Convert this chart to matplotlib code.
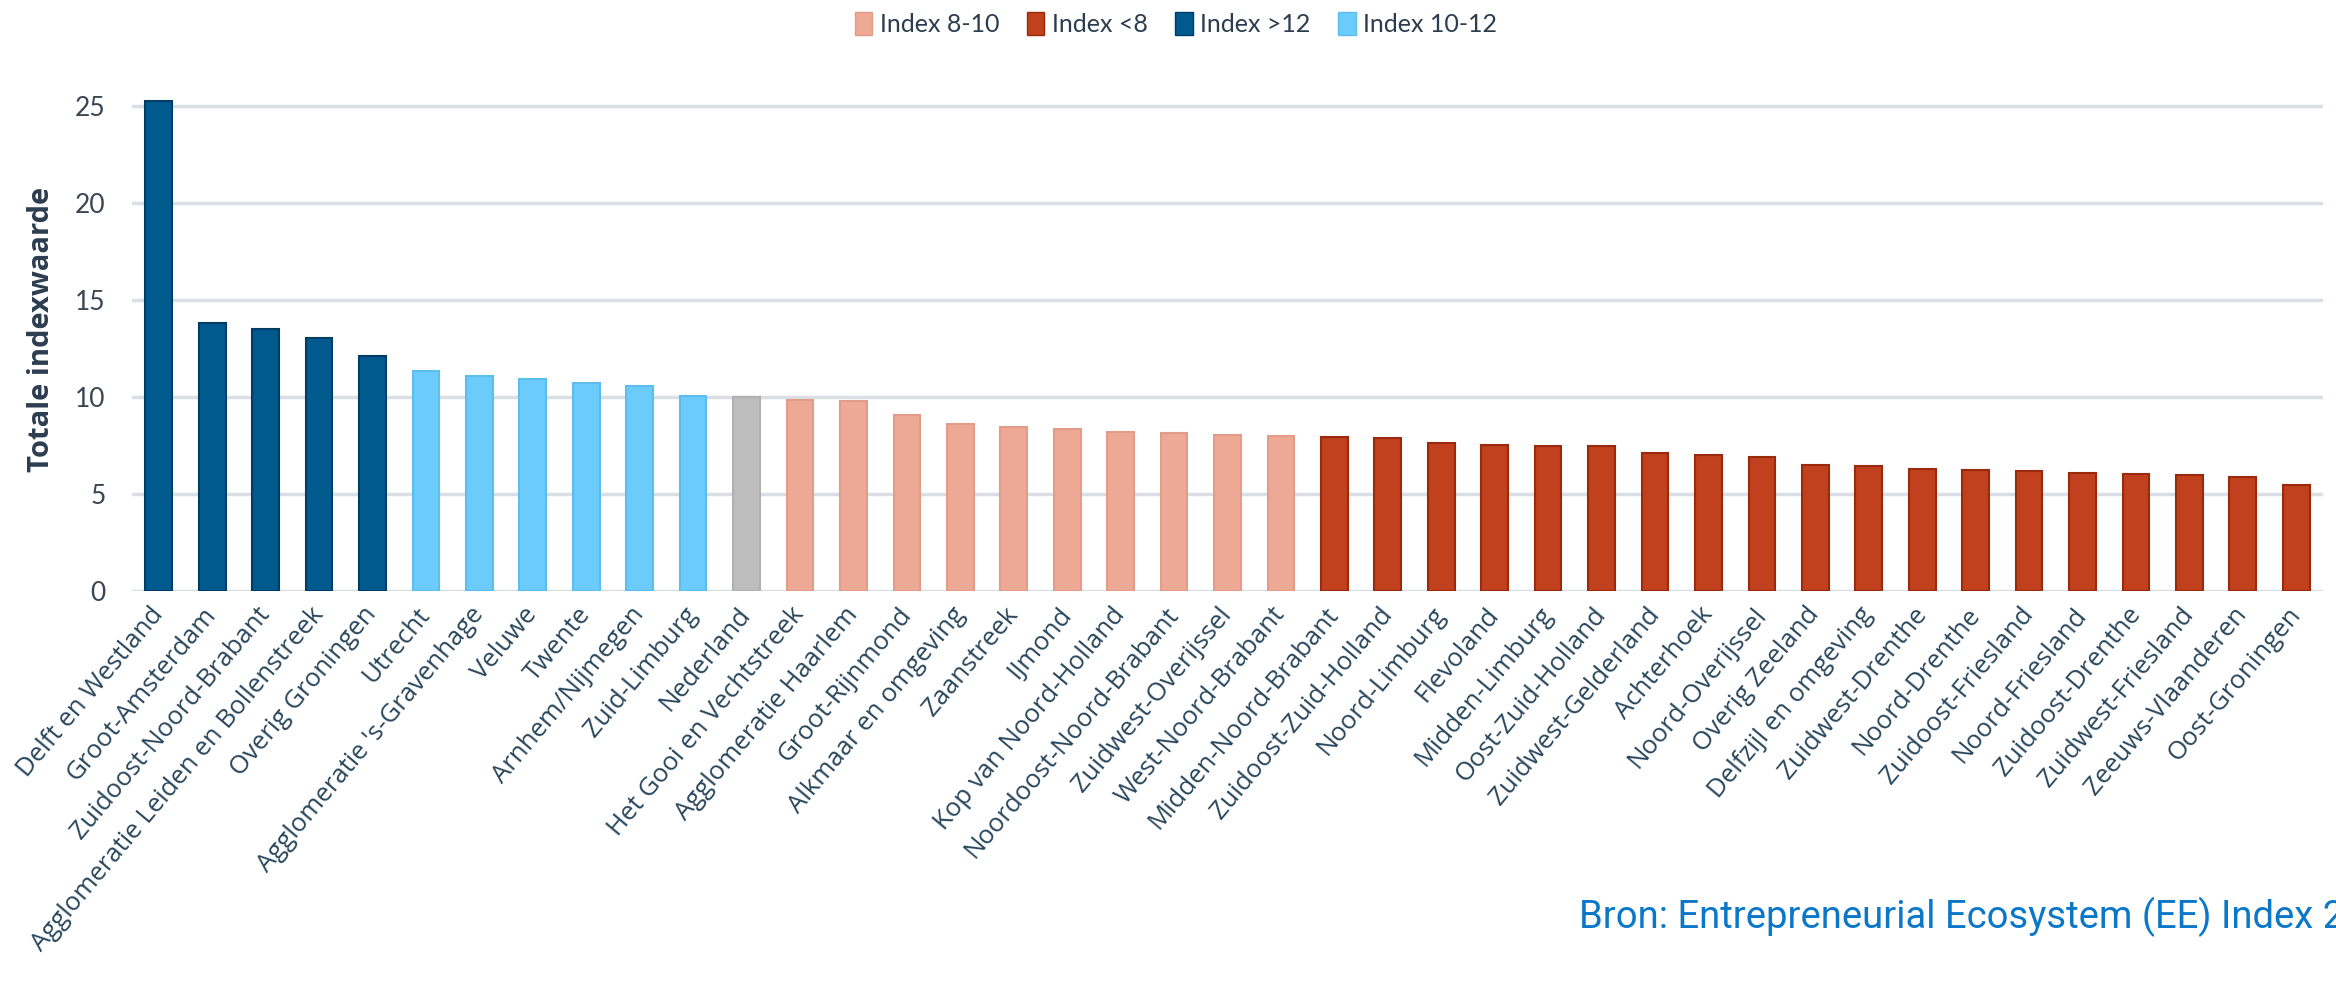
import matplotlib
matplotlib.use("Agg")
import matplotlib.pyplot as plt
from matplotlib.patches import Patch

regions = [
    "Delft en Westland", "Groot-Amsterdam", "Zuidoost-Noord-Brabant",
    "Agglomeratie Leiden en Bollenstreek", "Overig Groningen", "Utrecht",
    "Agglomeratie 's-Gravenhage", "Veluwe", "Twente", "Arnhem/Nijmegen",
    "Zuid-Limburg", "Nederland", "Het Gooi en Vechtstreek", "Agglomeratie Haarlem",
    "Groot-Rijnmond", "Alkmaar en omgeving", "Zaanstreek", "IJmond",
    "Kop van Noord-Holland", "Noordoost-Noord-Brabant", "Zuidwest-Overijssel",
    "West-Noord-Brabant", "Midden-Noord-Brabant", "Zuidoost-Zuid-Holland",
    "Noord-Limburg", "Flevoland", "Midden-Limburg", "Oost-Zuid-Holland",
    "Zuidwest-Gelderland", "Achterhoek", "Noord-Overijssel", "Overig Zeeland",
    "Delfzijl en omgeving", "Zuidwest-Drenthe", "Noord-Drenthe",
    "Zuidoost-Friesland", "Noord-Friesland", "Zuidoost-Drenthe",
    "Zuidwest-Friesland", "Zeeuws-Vlaanderen", "Oost-Groningen",
]
values = [
    25.27, 13.80, 13.52, 13.02, 12.12, 11.34,
    11.08, 10.91, 10.72, 10.55,
    10.03, 10.00, 9.83, 9.79,
    9.06, 8.59, 8.47, 8.34,
    8.22, 8.13, 8.04,
    7.99, 7.96, 7.89,
    7.62, 7.55, 7.46, 7.45,
    7.13, 7.01, 6.91, 6.51,
    6.43, 6.27, 6.25,
    6.17, 6.07, 6.05,
    5.96, 5.88, 5.46,
]
groups = (["Index >12"] * 5 + ["Index 10-12"] * 6 + ["Nederland"]
          + ["Index 8-10"] * 10 + ["Index <8"] * 19)
legend_order = ["Index 8-10", "Index <8", "Index >12", "Index 10-12"]

fills = {"Index >12": "#005A8E", "Index 10-12": "#6BCBFB", "Nederland": "#BDBDBD",
         "Index 8-10": "#EDA996", "Index <8": "#C1401D"}
edges = {"Index >12": "#003C64", "Index 10-12": "#5CBDEE", "Nederland": "#B0B0B0",
         "Index 8-10": "#E39C88", "Index <8": "#992A0E"}

W, H = 2336, 983
fig = plt.figure(figsize=(W / 100, H / 100), dpi=100)
ax = fig.add_axes([132 / W, (H - 591) / H, (2323 - 132) / W, 27 * 19.4 / H])

x = list(range(len(regions)))
ax.bar(x, values, width=0.5,
       color=[fills[g] for g in groups],
       edgecolor=[edges[g] for g in groups], linewidth=1.5, zorder=3)

ax.set_xlim(-0.5, len(regions) - 0.5)
ax.set_ylim(0, 27)
ax.set_yticks([0, 5, 10, 15, 20, 25])
ax.yaxis.grid(True, color="#D9DFE4", linewidth=2.5, zorder=0)
ax.set_axisbelow(True)
for s in ax.spines.values():
    s.set_visible(False)

condensed = ["Liberation Sans Narrow", "Lato", "DejaVu Sans"]
ax.tick_params(axis="y", length=0, pad=19, labelsize=19, labelcolor="#3A4654")
for t in ax.get_yticklabels():
    t.set_family(condensed)

ax.set_xticks(x)
ax.set_xticklabels(regions, rotation=50, ha="right", va="center",
                   rotation_mode="anchor", fontsize=18.5, color="#28465C",
                   family=["Open Sans", "Lato", "DejaVu Sans"])
ax.tick_params(axis="x", length=0, pad=14)

ax.set_ylabel("Totale indexwaarde", fontsize=21, fontweight="bold",
              color="#2B3D4F", family=["Open Sans", "Lato", "DejaVu Sans"], labelpad=14)

handles = [Patch(facecolor=fills[g], edgecolor=edges[g], label=g) for g in legend_order]
leg = fig.legend(handles=handles, loc="center", bbox_to_anchor=(1176 / W, 1 - 24 / H),
                 ncol=4, frameon=False, handlelength=0.7, handleheight=1.0,
                 handletextpad=0.3, columnspacing=1.1,
                 prop={"family": condensed, "size": 18})
for t in leg.get_texts():
    t.set_color("#2B3D4F")

fig.text(1579 / W, 1 - 917 / H, "Bron: Entrepreneurial Ecosystem (EE) Index 2023",
         ha="left", va="center", fontsize=27.5, color="#0A77C9",
         family=["Roboto", "DejaVu Sans"])

fig.savefig("out.png", dpi=100)
